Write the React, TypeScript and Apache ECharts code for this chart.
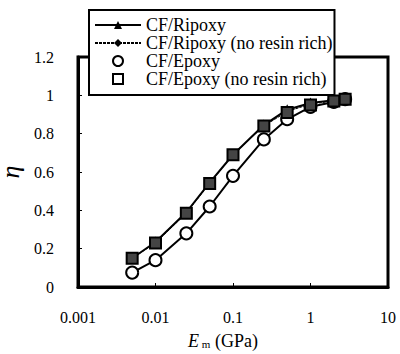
import React, { useEffect, useRef } from "react";
import * as echarts from "echarts";

const xValues = [0.005, 0.01, 0.025, 0.05, 0.1, 0.25, 0.5, 1, 2, 2.8];
const ripoxy = [0.15, 0.235, 0.39, 0.545, 0.69, 0.845, 0.925, 0.96, 0.975, 0.98];
const ripoxyNoRich = [0.15, 0.23, 0.385, 0.54, 0.69, 0.84, 0.915, 0.955, 0.97, 0.98];
const epoxy = [0.075, 0.14, 0.28, 0.42, 0.58, 0.77, 0.875, 0.94, 0.965, 0.98];
const epoxyNoRich = [0.15, 0.23, 0.385, 0.54, 0.69, 0.84, 0.91, 0.95, 0.97, 0.98];
const xTickLabels = ["0.001", "0.01", "0.1", "1", "10"];
const seriesNames = [
  "CF/Ripoxy",
  "CF/Ripoxy (no resin rich)",
  "CF/Epoxy",
  "CF/Epoxy (no resin rich)",
];

const FONT = "Liberation Serif";

function pairs(ys: number[]) {
  return xValues.map((x, i) => [x, ys[i]]);
}

export default function App() {
  const ref = useRef<HTMLDivElement>(null);
  useEffect(() => {
    document.body.style.margin = "0";
    document.body.style.overflow = "hidden";
    if (!ref.current) return;
    const chart = echarts.init(ref.current, null, { renderer: "svg" });
    chart.setOption({
      animation: false,
      textStyle: { fontFamily: FONT },
      grid: {
        left: 78,
        right: 12,
        top: 57,
        bottom: 67,
        show: true,
        borderColor: "#000",
        borderWidth: 3,
        containLabel: false,
        outerBoundsMode: "none",
      },
      legend: {
        left: 89,
        top: 10,
        orient: "vertical",
        backgroundColor: "#fff",
        borderColor: "#000",
        borderWidth: 2,
        padding: [6, 2, 7, 5],
        itemWidth: 46,
        itemHeight: 10,
        itemGap: 0,
        itemTextGap: 3,
        z: 10,
        textStyle: { fontFamily: FONT, fontSize: 18, color: "#000", lineHeight: 15 },
        data: [
          { name: seriesNames[0] },
          { name: seriesNames[1] },
          {
            name: seriesNames[2],
            icon: "circle",
            itemStyle: { color: "#fff", borderColor: "#000", borderWidth: 2 },
          },
          {
            name: seriesNames[3],
            icon: "path://M0,0L10,0L10,10L0,10Z",
            itemStyle: { color: "#fff", borderColor: "#000", borderWidth: 2 },
          },
        ],
      },
      xAxis: {
        type: "log",
        logBase: 10,
        min: 0.001,
        max: 10,
        name: "{e|E}{m| m}{n| (GPa)}",
        nameLocation: "middle",
        nameGap: 45,
        nameTextStyle: {
          fontFamily: FONT,
          padding: [0, 20, 0, 0],
          rich: {
            e: { fontFamily: FONT, fontSize: 18, fontStyle: "italic", color: "#000" },
            m: { fontFamily: FONT, fontSize: 11, color: "#000", padding: [5, 0, 0, 0] },
            n: { fontFamily: FONT, fontSize: 18, color: "#000" },
          },
        },
        axisLine: { show: true, lineStyle: { color: "#000", width: 3 } },
        axisTick: { show: true, inside: true, length: 4, lineStyle: { color: "#000", width: 1 } },
        minorTick: { show: false },
        splitLine: { show: false },
        axisLabel: {
          margin: 22,
          fontFamily: FONT,
          fontSize: 16,
          color: "#000",
          formatter: (v: number) => xTickLabels[Math.round(Math.log10(v)) + 3] ?? "",
        },
      },
      yAxis: {
        type: "value",
        min: 0,
        max: 1.2,
        interval: 0.2,
        name: "η",
        nameLocation: "middle",
        nameGap: 52,
        nameTextStyle: { fontFamily: FONT, fontSize: 26, fontStyle: "italic", color: "#000" },
        axisLine: { show: true, lineStyle: { color: "#000", width: 3 } },
        axisTick: { show: true, inside: true, length: 4, lineStyle: { color: "#000", width: 1 } },
        splitLine: { show: false },
        axisLabel: {
          margin: 24,
          fontFamily: FONT,
          fontSize: 16,
          color: "#000",
          formatter: (v: number) => String(Math.round(v * 10) / 10),
        },
      },
      series: [
        {
          name: seriesNames[0],
          type: "line",
          data: pairs(ripoxy),
          symbol: "triangle",
          symbolSize: 11,
          itemStyle: { color: "#000" },
          lineStyle: { color: "#000", width: 2 },
          z: 2,
        },
        {
          name: seriesNames[1],
          type: "line",
          data: pairs(ripoxyNoRich),
          symbol: "diamond",
          symbolSize: 11,
          itemStyle: { color: "#000" },
          lineStyle: { color: "#000", width: 1, type: [3, 1] },
          z: 3,
        },
        {
          name: seriesNames[2],
          type: "line",
          data: pairs(epoxy),
          symbol: "circle",
          symbolSize: 12,
          itemStyle: { color: "#fff", borderColor: "#000", borderWidth: 2 },
          lineStyle: { color: "#000", width: 2 },
          z: 4,
        },
        {
          name: seriesNames[3],
          type: "line",
          data: pairs(epoxyNoRich),
          symbol: "rect",
          symbolSize: 11,
          itemStyle: { color: "#444", borderColor: "#000", borderWidth: 2 },
          lineStyle: { width: 0, opacity: 0 },
          z: 5,
        },
      ],
    });
    return () => chart.dispose();
  }, []);
  return <div ref={ref} style={{ width: 400, height: 354 }} />;
}
